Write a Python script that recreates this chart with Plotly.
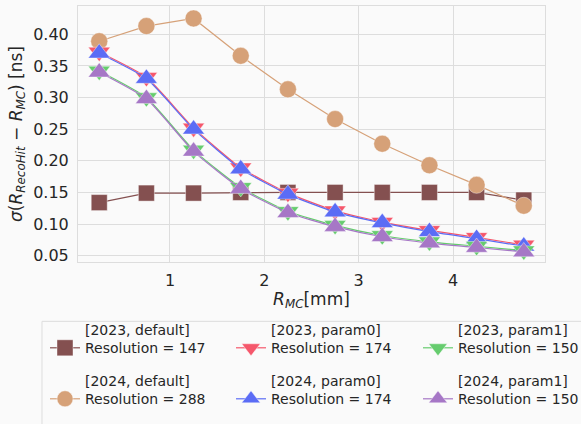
import plotly.graph_objects as go

x_rmc = [0.25, 0.75, 1.25, 1.75, 2.25, 2.75, 3.25, 3.75, 4.25, 4.75]

y_2023_default = [0.134, 0.149, 0.149, 0.150, 0.150, 0.150, 0.150, 0.150, 0.150, 0.138]
y_2024_default = [0.389, 0.413, 0.425, 0.366, 0.313, 0.266, 0.227, 0.193, 0.162, 0.129]
y_2023_param0 = [0.372, 0.332, 0.252, 0.189, 0.149, 0.121, 0.103, 0.090, 0.079, 0.067]
y_2024_param0 = [0.370, 0.330, 0.250, 0.187, 0.147, 0.119, 0.102, 0.088, 0.077, 0.065]
y_2023_param1 = [0.342, 0.300, 0.217, 0.158, 0.120, 0.098, 0.082, 0.072, 0.065, 0.058]
y_2024_param1 = [0.340, 0.298, 0.215, 0.156, 0.118, 0.096, 0.080, 0.070, 0.063, 0.056]

names = [
    "[2023, default]<br>Resolution = 147",
    "[2024, default]<br>Resolution = 288",
    "[2023, param0]<br>Resolution = 174",
    "[2024, param0]<br>Resolution = 174",
    "[2023, param1]<br>Resolution = 150",
    "[2024, param1]<br>Resolution = 150",
]
series = [y_2023_default, y_2024_default, y_2023_param0, y_2024_param0, y_2023_param1, y_2024_param1]
colors = ["#845050", "#d6a178", "#f5576b", "#5b6cf5", "#66cc6e", "#a677c6"]
symbols = ["square", "circle", "triangle-down", "triangle-up", "triangle-down", "triangle-up"]
sizes = [16, 17, 19, 19, 19, 19]
shapes = ["linear", "linear", "spline", "spline", "spline", "spline"]
# legend slot (column, row) for each series, matching a 3-column legend
slots = [(0, 0), (0, 1), (1, 0), (1, 1), (2, 0), (2, 1)]

W, H = 581, 424
font_family = "DejaVu Sans"
col_left = [45, 231, 418]
row_top = [314, 365]

fig = go.Figure()
legends = {}
for i, (nm, ys, c, sym, sz, shp, (col, row)) in enumerate(
        zip(names, series, colors, symbols, sizes, shapes, slots)):
    lid = "legend" if i == 0 else f"legend{i + 1}"
    fig.add_trace(go.Scatter(
        x=x_rmc, y=ys, name=nm, mode="lines+markers",
        line=dict(color=c, width=1.2, shape=shp, smoothing=0.5),
        marker=dict(symbol=sym, size=sz, color=c, line=dict(color="rgba(255,255,255,0.5)", width=0.8)),
        legend=lid,
    ))
    legends[lid] = dict(
        orientation="h",
        xref="container", yref="container",
        x=col_left[col] / W, xanchor="left",
        y=1 - row_top[row] / H, yanchor="top",
        font=dict(size=14, family=font_family, color="#262626"),
        bgcolor="rgba(0,0,0,0)",
        borderwidth=0,
        valign="bottom",
        itemsizing="trace",
    )

fig.update_layout(
    width=W, height=H,
    margin=dict(l=78, r=36, t=6, b=162),
    paper_bgcolor="#fafafa",
    plot_bgcolor="#fafafa",
    font=dict(family=font_family, size=16, color="#262626"),
    showlegend=True,
    shapes=[dict(
        type="rect", xref="paper", yref="paper",
        x0=(42 - 78) / 467, x1=(600 - 78) / 467,
        y0=(262.3 - 321.7) / 256.3, y1=(262.3 - 440) / 256.3,
        line=dict(color="#dddddd", width=1), fillcolor="rgba(0,0,0,0)", layer="below",
    )],
    xaxis=dict(
        range=[0.025, 4.975],
        tickvals=[1, 2, 3, 4], ticktext=["1", "2", "3", "4"],
        showgrid=True, gridcolor="#dddddd", gridwidth=1,
        zeroline=False,
        showline=True, linecolor="#dddddd", linewidth=1, mirror=True,
        ticks="", ticklabelstandoff=4,
        title=dict(text="<i>R</i><sub><i>MC</i></sub>[mm]", font=dict(size=17), standoff=3),
    ),
    yaxis=dict(
        range=[0.0401, 0.4447],
        tickvals=[0.05, 0.10, 0.15, 0.20, 0.25, 0.30, 0.35, 0.40],
        ticktext=["0.05", "0.10", "0.15", "0.20", "0.25", "0.30", "0.35", "0.40"],
        showgrid=True, gridcolor="#dddddd", gridwidth=1,
        zeroline=False,
        showline=True, linecolor="#dddddd", linewidth=1, mirror=True,
        ticks="", ticklabelstandoff=5,
        title=dict(text="<i>σ</i>(<i>R</i><sub><i>RecoHit</i></sub> − <i>R</i><sub><i>MC</i></sub>) [ns]",
                   font=dict(size=17), standoff=6),
    ),
)
fig.update_layout(**legends)

fig.write_html("out.html")
